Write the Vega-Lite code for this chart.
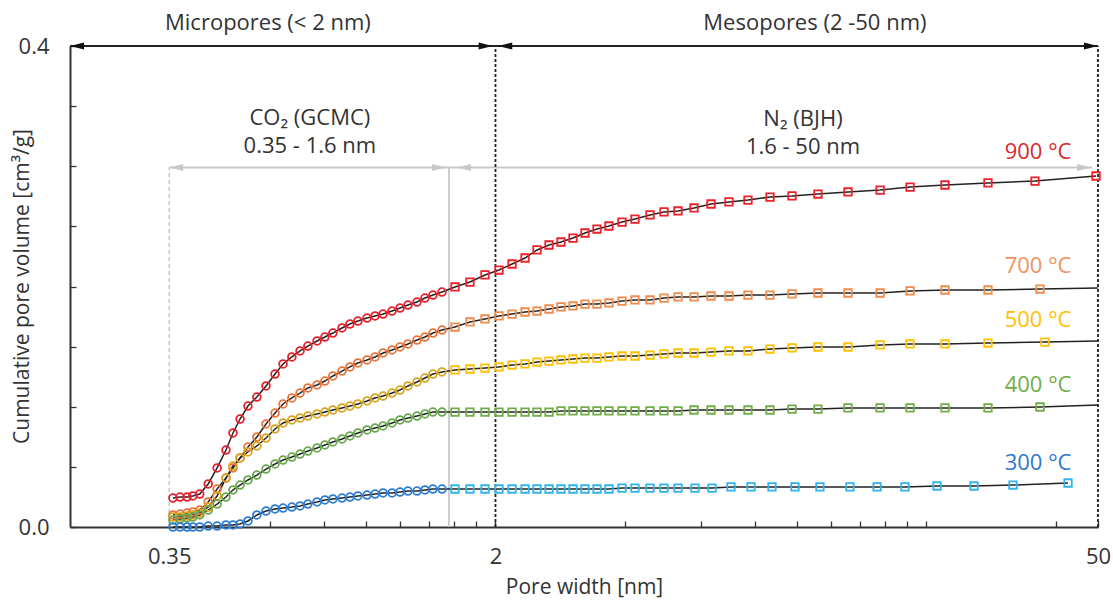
{
"$schema": "https://vega.github.io/schema/vega-lite/v6.json",
"width": 1028, "height": 481,
"autosize": {"type": "none"},
"padding": {"left": 70, "top": 46, "right": 15, "bottom": 75},
"background": "white",
"config": {"view": {"stroke": null}},
"datasets": {
"pts": [
{"t":"900","m":"G","w":0.357,"v":0.0241},{"t":"900","m":"G","w":0.371,"v":0.0249},{"t":"900","m":"G","w":0.385,"v":0.0249},{"t":"900","m":"G","w":0.397,"v":0.0258},{"t":"900","m":"G","w":0.412,"v":0.0274},{"t":"900","m":"G","w":0.431,"v":0.0358},{"t":"900","m":"G","w":0.452,"v":0.0491},{"t":"900","m":"G","w":0.474,"v":0.0640},{"t":"900","m":"G","w":0.492,"v":0.0782},{"t":"900","m":"G","w":0.511,"v":0.0898},{"t":"900","m":"G","w":0.533,"v":0.1006},{"t":"900","m":"G","w":0.559,"v":0.1081},{"t":"900","m":"G","w":0.587,"v":0.1173},{"t":"900","m":"G","w":0.616,"v":0.1272},{"t":"900","m":"G","w":0.643,"v":0.1356},{"t":"900","m":"G","w":0.674,"v":0.1414},{"t":"900","m":"G","w":0.704,"v":0.1464},{"t":"900","m":"G","w":0.734,"v":0.1505},{"t":"900","m":"G","w":0.771,"v":0.1547},{"t":"900","m":"G","w":0.804,"v":0.1580},{"t":"900","m":"G","w":0.839,"v":0.1613},{"t":"900","m":"G","w":0.881,"v":0.1655},{"t":"900","m":"G","w":0.919,"v":0.1688},{"t":"900","m":"G","w":0.959,"v":0.1713},{"t":"900","m":"G","w":1.007,"v":0.1738},{"t":"900","m":"G","w":1.051,"v":0.1755},{"t":"900","m":"G","w":1.097,"v":0.1771},{"t":"900","m":"G","w":1.151,"v":0.1796},{"t":"900","m":"G","w":1.201,"v":0.1821},{"t":"900","m":"G","w":1.253,"v":0.1846},{"t":"900","m":"G","w":1.315,"v":0.1871},{"t":"900","m":"G","w":1.372,"v":0.1904},{"t":"900","m":"G","w":1.432,"v":0.1929},{"t":"900","m":"G","w":1.503,"v":0.1954},
{"t":"900","m":"B","w":1.611,"v":0.1996},{"t":"900","m":"B","w":1.745,"v":0.2037},{"t":"900","m":"B","w":1.891,"v":0.2096},{"t":"900","m":"B","w":2.038,"v":0.2137},{"t":"900","m":"B","w":2.185,"v":0.2187},{"t":"900","m":"B","w":2.342,"v":0.2237},{"t":"900","m":"B","w":2.497,"v":0.2304},{"t":"900","m":"B","w":2.662,"v":0.2345},{"t":"900","m":"B","w":2.838,"v":0.2370},{"t":"900","m":"B","w":3.026,"v":0.2403},{"t":"900","m":"B","w":3.226,"v":0.2445},{"t":"900","m":"B","w":3.440,"v":0.2478},{"t":"900","m":"B","w":3.667,"v":0.2503},{"t":"900","m":"B","w":3.932,"v":0.2536},{"t":"900","m":"B","w":4.214,"v":0.2561},{"t":"900","m":"B","w":4.566,"v":0.2595},{"t":"900","m":"B","w":4.920,"v":0.2620},{"t":"900","m":"B","w":5.303,"v":0.2628},{"t":"900","m":"B","w":5.776,"v":0.2653},{"t":"900","m":"B","w":6.325,"v":0.2686},{"t":"900","m":"B","w":6.963,"v":0.2703},{"t":"900","m":"B","w":7.707,"v":0.2719},{"t":"900","m":"B","w":8.669,"v":0.2744},{"t":"900","m":"B","w":9.750,"v":0.2753},{"t":"900","m":"B","w":11.20,"v":0.2769},{"t":"900","m":"B","w":13.15,"v":0.2786},{"t":"900","m":"B","w":15.61,"v":0.2802},{"t":"900","m":"B","w":18.32,"v":0.2827},{"t":"900","m":"B","w":22.08,"v":0.2844},{"t":"900","m":"B","w":27.78,"v":0.2861},{"t":"900","m":"B","w":35.71,"v":0.2877},{"t":"900","m":"B","w":49.47,"v":0.2919},
{"t":"700","m":"G","w":0.357,"v":0.0100},{"t":"700","m":"G","w":0.371,"v":0.0108},{"t":"700","m":"G","w":0.385,"v":0.0116},{"t":"700","m":"G","w":0.397,"v":0.0125},{"t":"700","m":"G","w":0.412,"v":0.0141},{"t":"700","m":"G","w":0.431,"v":0.0208},{"t":"700","m":"G","w":0.452,"v":0.0316},{"t":"700","m":"G","w":0.474,"v":0.0407},{"t":"700","m":"G","w":0.492,"v":0.0491},{"t":"700","m":"G","w":0.511,"v":0.0574},{"t":"700","m":"G","w":0.533,"v":0.0665},{"t":"700","m":"G","w":0.559,"v":0.0748},{"t":"700","m":"G","w":0.587,"v":0.0857},{"t":"700","m":"G","w":0.616,"v":0.0948},{"t":"700","m":"G","w":0.643,"v":0.1023},{"t":"700","m":"G","w":0.674,"v":0.1073},{"t":"700","m":"G","w":0.704,"v":0.1114},{"t":"700","m":"G","w":0.734,"v":0.1156},{"t":"700","m":"G","w":0.771,"v":0.1181},{"t":"700","m":"G","w":0.804,"v":0.1214},{"t":"700","m":"G","w":0.839,"v":0.1256},{"t":"700","m":"G","w":0.881,"v":0.1297},{"t":"700","m":"G","w":0.919,"v":0.1331},{"t":"700","m":"G","w":0.959,"v":0.1364},{"t":"700","m":"G","w":1.007,"v":0.1389},{"t":"700","m":"G","w":1.051,"v":0.1414},{"t":"700","m":"G","w":1.097,"v":0.1447},{"t":"700","m":"G","w":1.151,"v":0.1472},{"t":"700","m":"G","w":1.201,"v":0.1497},{"t":"700","m":"G","w":1.253,"v":0.1522},{"t":"700","m":"G","w":1.315,"v":0.1555},{"t":"700","m":"G","w":1.372,"v":0.1580},{"t":"700","m":"G","w":1.432,"v":0.1613},{"t":"700","m":"G","w":1.503,"v":0.1638},
{"t":"700","m":"B","w":1.611,"v":0.1663},{"t":"700","m":"B","w":1.745,"v":0.1705},{"t":"700","m":"B","w":1.891,"v":0.1730},{"t":"700","m":"B","w":2.038,"v":0.1755},{"t":"700","m":"B","w":2.185,"v":0.1771},{"t":"700","m":"B","w":2.342,"v":0.1788},{"t":"700","m":"B","w":2.497,"v":0.1796},{"t":"700","m":"B","w":2.662,"v":0.1813},{"t":"700","m":"B","w":2.838,"v":0.1830},{"t":"700","m":"B","w":3.026,"v":0.1838},{"t":"700","m":"B","w":3.226,"v":0.1854},{"t":"700","m":"B","w":3.440,"v":0.1854},{"t":"700","m":"B","w":3.667,"v":0.1863},{"t":"700","m":"B","w":3.932,"v":0.1879},{"t":"700","m":"B","w":4.214,"v":0.1888},{"t":"700","m":"B","w":4.566,"v":0.1888},{"t":"700","m":"B","w":4.920,"v":0.1904},{"t":"700","m":"B","w":5.303,"v":0.1913},{"t":"700","m":"B","w":5.776,"v":0.1913},{"t":"700","m":"B","w":6.325,"v":0.1921},{"t":"700","m":"B","w":6.963,"v":0.1921},{"t":"700","m":"B","w":7.707,"v":0.1929},{"t":"700","m":"B","w":8.669,"v":0.1929},{"t":"700","m":"B","w":9.750,"v":0.1938},{"t":"700","m":"B","w":11.20,"v":0.1946},{"t":"700","m":"B","w":13.15,"v":0.1946},{"t":"700","m":"B","w":15.61,"v":0.1946},{"t":"700","m":"B","w":18.32,"v":0.1963},{"t":"700","m":"B","w":22.08,"v":0.1971},{"t":"700","m":"B","w":27.78,"v":0.1971},{"t":"700","m":"B","w":36.68,"v":0.1979},{"t":"700","m":"E","w":50,"v":0.1988},
{"t":"500","m":"G","w":0.357,"v":0.0083},{"t":"500","m":"G","w":0.371,"v":0.0083},{"t":"500","m":"G","w":0.385,"v":0.0091},{"t":"500","m":"G","w":0.397,"v":0.0100},{"t":"500","m":"G","w":0.412,"v":0.0116},{"t":"500","m":"G","w":0.431,"v":0.0166},{"t":"500","m":"G","w":0.452,"v":0.0258},{"t":"500","m":"G","w":0.474,"v":0.0407},{"t":"500","m":"G","w":0.492,"v":0.0507},{"t":"500","m":"G","w":0.511,"v":0.0574},{"t":"500","m":"G","w":0.533,"v":0.0624},{"t":"500","m":"G","w":0.559,"v":0.0674},{"t":"500","m":"G","w":0.587,"v":0.0740},{"t":"500","m":"G","w":0.616,"v":0.0815},{"t":"500","m":"G","w":0.643,"v":0.0865},{"t":"500","m":"G","w":0.674,"v":0.0890},{"t":"500","m":"G","w":0.704,"v":0.0906},{"t":"500","m":"G","w":0.734,"v":0.0923},{"t":"500","m":"G","w":0.771,"v":0.0940},{"t":"500","m":"G","w":0.804,"v":0.0956},{"t":"500","m":"G","w":0.839,"v":0.0973},{"t":"500","m":"G","w":0.881,"v":0.0990},{"t":"500","m":"G","w":0.919,"v":0.1006},{"t":"500","m":"G","w":0.959,"v":0.1023},{"t":"500","m":"G","w":1.007,"v":0.1048},{"t":"500","m":"G","w":1.051,"v":0.1073},{"t":"500","m":"G","w":1.097,"v":0.1089},{"t":"500","m":"G","w":1.151,"v":0.1114},{"t":"500","m":"G","w":1.201,"v":0.1139},{"t":"500","m":"G","w":1.253,"v":0.1173},{"t":"500","m":"G","w":1.315,"v":0.1206},{"t":"500","m":"G","w":1.372,"v":0.1239},{"t":"500","m":"G","w":1.432,"v":0.1272},{"t":"500","m":"G","w":1.503,"v":0.1289},
{"t":"500","m":"B","w":1.611,"v":0.1306},{"t":"500","m":"B","w":1.745,"v":0.1314},{"t":"500","m":"B","w":1.891,"v":0.1322},{"t":"500","m":"B","w":2.038,"v":0.1331},{"t":"500","m":"B","w":2.185,"v":0.1347},{"t":"500","m":"B","w":2.342,"v":0.1356},{"t":"500","m":"B","w":2.497,"v":0.1372},{"t":"500","m":"B","w":2.662,"v":0.1380},{"t":"500","m":"B","w":2.838,"v":0.1389},{"t":"500","m":"B","w":3.026,"v":0.1397},{"t":"500","m":"B","w":3.226,"v":0.1405},{"t":"500","m":"B","w":3.440,"v":0.1405},{"t":"500","m":"B","w":3.667,"v":0.1414},{"t":"500","m":"B","w":3.932,"v":0.1422},{"t":"500","m":"B","w":4.214,"v":0.1422},{"t":"500","m":"B","w":4.566,"v":0.1430},{"t":"500","m":"B","w":4.920,"v":0.1439},{"t":"500","m":"B","w":5.303,"v":0.1447},{"t":"500","m":"B","w":5.776,"v":0.1447},{"t":"500","m":"B","w":6.325,"v":0.1455},{"t":"500","m":"B","w":6.963,"v":0.1464},{"t":"500","m":"B","w":7.707,"v":0.1464},{"t":"500","m":"B","w":8.669,"v":0.1480},{"t":"500","m":"B","w":9.750,"v":0.1489},{"t":"500","m":"B","w":11.20,"v":0.1497},{"t":"500","m":"B","w":13.15,"v":0.1497},{"t":"500","m":"B","w":15.61,"v":0.1514},{"t":"500","m":"B","w":18.32,"v":0.1522},{"t":"500","m":"B","w":22.08,"v":0.1522},{"t":"500","m":"B","w":27.78,"v":0.1530},{"t":"500","m":"B","w":37.67,"v":0.1538},{"t":"500","m":"E","w":50,"v":0.1547},
{"t":"400","m":"G","w":0.357,"v":0.0058},{"t":"400","m":"G","w":0.371,"v":0.0067},{"t":"400","m":"G","w":0.385,"v":0.0075},{"t":"400","m":"G","w":0.397,"v":0.0083},{"t":"400","m":"G","w":0.412,"v":0.0100},{"t":"400","m":"G","w":0.431,"v":0.0141},{"t":"400","m":"G","w":0.452,"v":0.0191},{"t":"400","m":"G","w":0.474,"v":0.0249},{"t":"400","m":"G","w":0.492,"v":0.0308},{"t":"400","m":"G","w":0.511,"v":0.0349},{"t":"400","m":"G","w":0.533,"v":0.0391},{"t":"400","m":"G","w":0.559,"v":0.0432},{"t":"400","m":"G","w":0.587,"v":0.0482},{"t":"400","m":"G","w":0.616,"v":0.0524},{"t":"400","m":"G","w":0.643,"v":0.0557},{"t":"400","m":"G","w":0.674,"v":0.0582},{"t":"400","m":"G","w":0.704,"v":0.0607},{"t":"400","m":"G","w":0.734,"v":0.0632},{"t":"400","m":"G","w":0.771,"v":0.0657},{"t":"400","m":"G","w":0.804,"v":0.0682},{"t":"400","m":"G","w":0.839,"v":0.0707},{"t":"400","m":"G","w":0.881,"v":0.0732},{"t":"400","m":"G","w":0.919,"v":0.0757},{"t":"400","m":"G","w":0.959,"v":0.0782},{"t":"400","m":"G","w":1.007,"v":0.0807},{"t":"400","m":"G","w":1.051,"v":0.0823},{"t":"400","m":"G","w":1.097,"v":0.0840},{"t":"400","m":"G","w":1.151,"v":0.0865},{"t":"400","m":"G","w":1.201,"v":0.0890},{"t":"400","m":"G","w":1.253,"v":0.0906},{"t":"400","m":"G","w":1.315,"v":0.0923},{"t":"400","m":"G","w":1.372,"v":0.0940},{"t":"400","m":"G","w":1.432,"v":0.0956},{"t":"400","m":"G","w":1.503,"v":0.0956},
{"t":"400","m":"B","w":1.611,"v":0.0956},{"t":"400","m":"B","w":1.745,"v":0.0956},{"t":"400","m":"B","w":1.891,"v":0.0956},{"t":"400","m":"B","w":2.038,"v":0.0956},{"t":"400","m":"B","w":2.185,"v":0.0956},{"t":"400","m":"B","w":2.342,"v":0.0956},{"t":"400","m":"B","w":2.497,"v":0.0956},{"t":"400","m":"B","w":2.662,"v":0.0956},{"t":"400","m":"B","w":2.838,"v":0.0965},{"t":"400","m":"B","w":3.026,"v":0.0965},{"t":"400","m":"B","w":3.226,"v":0.0965},{"t":"400","m":"B","w":3.440,"v":0.0965},{"t":"400","m":"B","w":3.667,"v":0.0965},{"t":"400","m":"B","w":3.932,"v":0.0965},{"t":"400","m":"B","w":4.214,"v":0.0965},{"t":"400","m":"B","w":4.566,"v":0.0965},{"t":"400","m":"B","w":4.920,"v":0.0965},{"t":"400","m":"B","w":5.303,"v":0.0965},{"t":"400","m":"B","w":5.776,"v":0.0973},{"t":"400","m":"B","w":6.325,"v":0.0973},{"t":"400","m":"B","w":6.963,"v":0.0973},{"t":"400","m":"B","w":7.707,"v":0.0973},{"t":"400","m":"B","w":8.669,"v":0.0973},{"t":"400","m":"B","w":9.750,"v":0.0981},{"t":"400","m":"B","w":11.20,"v":0.0981},{"t":"400","m":"B","w":13.15,"v":0.0990},{"t":"400","m":"B","w":15.61,"v":0.0990},{"t":"400","m":"B","w":18.32,"v":0.0990},{"t":"400","m":"B","w":22.08,"v":0.0990},{"t":"400","m":"B","w":27.78,"v":0.0990},{"t":"400","m":"B","w":36.68,"v":0.0998},{"t":"400","m":"E","w":50,"v":0.1015},
{"t":"300","m":"G","w":0.357,"v":0.0},{"t":"300","m":"G","w":0.371,"v":0.0},{"t":"300","m":"G","w":0.385,"v":0.0},{"t":"300","m":"G","w":0.397,"v":0.0},{"t":"300","m":"G","w":0.412,"v":0.0},{"t":"300","m":"G","w":0.431,"v":0.0008},{"t":"300","m":"G","w":0.452,"v":0.0008},{"t":"300","m":"G","w":0.474,"v":0.0017},{"t":"300","m":"G","w":0.492,"v":0.0017},{"t":"300","m":"G","w":0.511,"v":0.0025},{"t":"300","m":"G","w":0.533,"v":0.0050},{"t":"300","m":"G","w":0.559,"v":0.0100},{"t":"300","m":"G","w":0.587,"v":0.0133},{"t":"300","m":"G","w":0.616,"v":0.0150},{"t":"300","m":"G","w":0.643,"v":0.0158},{"t":"300","m":"G","w":0.674,"v":0.0166},{"t":"300","m":"G","w":0.704,"v":0.0175},{"t":"300","m":"G","w":0.734,"v":0.0191},{"t":"300","m":"G","w":0.771,"v":0.0208},{"t":"300","m":"G","w":0.804,"v":0.0225},{"t":"300","m":"G","w":0.839,"v":0.0233},{"t":"300","m":"G","w":0.881,"v":0.0241},{"t":"300","m":"G","w":0.919,"v":0.0249},{"t":"300","m":"G","w":0.959,"v":0.0258},{"t":"300","m":"G","w":1.007,"v":0.0266},{"t":"300","m":"G","w":1.051,"v":0.0274},{"t":"300","m":"G","w":1.097,"v":0.0283},{"t":"300","m":"G","w":1.151,"v":0.0283},{"t":"300","m":"G","w":1.201,"v":0.0291},{"t":"300","m":"G","w":1.253,"v":0.0299},{"t":"300","m":"G","w":1.315,"v":0.0299},{"t":"300","m":"G","w":1.372,"v":0.0308},{"t":"300","m":"G","w":1.432,"v":0.0316},{"t":"300","m":"G","w":1.503,"v":0.0316},
{"t":"300","m":"B","w":1.611,"v":0.0316},{"t":"300","m":"B","w":1.745,"v":0.0316},{"t":"300","m":"B","w":1.891,"v":0.0316},{"t":"300","m":"B","w":2.038,"v":0.0316},{"t":"300","m":"B","w":2.185,"v":0.0316},{"t":"300","m":"B","w":2.342,"v":0.0316},{"t":"300","m":"B","w":2.497,"v":0.0316},{"t":"300","m":"B","w":2.662,"v":0.0316},{"t":"300","m":"B","w":2.838,"v":0.0316},{"t":"300","m":"B","w":3.026,"v":0.0316},{"t":"300","m":"B","w":3.226,"v":0.0316},{"t":"300","m":"B","w":3.440,"v":0.0316},{"t":"300","m":"B","w":3.667,"v":0.0316},{"t":"300","m":"B","w":3.932,"v":0.0324},{"t":"300","m":"B","w":4.214,"v":0.0324},{"t":"300","m":"B","w":4.566,"v":0.0324},{"t":"300","m":"B","w":4.920,"v":0.0324},{"t":"300","m":"B","w":5.303,"v":0.0324},{"t":"300","m":"B","w":5.807,"v":0.0324},{"t":"300","m":"B","w":6.359,"v":0.0324},{"t":"300","m":"B","w":7.038,"v":0.0333},{"t":"300","m":"B","w":7.832,"v":0.0333},{"t":"300","m":"B","w":8.762,"v":0.0333},{"t":"300","m":"B","w":9.907,"v":0.0333},{"t":"300","m":"B","w":11.32,"v":0.0333},{"t":"300","m":"B","w":13.29,"v":0.0333},{"t":"300","m":"B","w":15.36,"v":0.0333},{"t":"300","m":"B","w":17.83,"v":0.0333},{"t":"300","m":"B","w":21.16,"v":0.0341},{"t":"300","m":"B","w":25.78,"v":0.0341},{"t":"300","m":"B","w":31.75,"v":0.0349},{"t":"300","m":"B","w":42.60,"v":0.0366}
]
},
"encoding": {
  "x": {"field": "w", "type": "quantitative",
    "scale": {"type": "log", "domain": [0.206, 50], "nice": false},
    "axis": {"values": [0.35,0.6,0.8,1,1.2,1.4,1.6,1.8,2,4,6,8,10,12,14,16,18,20,40,50],
      "labelExpr": "datum.value == 0.35 ? '0.35' : datum.value == 2 ? '2' : datum.value == 50 ? '50' : ''",
      "title": "Pore width [nm]", "grid": false,
      "domainColor": "#333", "domainWidth": 2, "tickColor": "#333", "tickWidth": 1.3, "tickSize": -6,
      "labelPadding": 25, "labelFlush": false, "labelOverlap": false,
      "labelFont": "Open Sans", "labelFontSize": 22, "labelColor": "#333",
      "titleFont": "Open Sans", "titleFontSize": 21, "titleFontWeight": "normal", "titleColor": "#333",
      "titleX": 514, "titleY": 60, "titleBaseline": "middle", "titleAlign": "center"}},
  "y": {"field": "v", "type": "quantitative",
    "scale": {"domain": [0, 0.4], "nice": false},
    "axis": {"values": [0,0.05,0.1,0.15,0.2,0.25,0.3,0.35,0.4],
      "labelExpr": "datum.value == 0 || datum.value == 0.4 ? format(datum.value, '.1f') : ''",
      "title": "Cumulative pore volume [cm³/g]", "grid": false,
      "domainColor": "#333", "domainWidth": 2, "tickColor": "#333", "tickWidth": 1.3, "tickSize": -6,
      "labelPadding": 27, "labelOverlap": false,
      "labelFont": "Open Sans", "labelFontSize": 22, "labelColor": "#333",
      "titleFont": "Open Sans", "titleFontSize": 21, "titleFontWeight": "normal", "titleColor": "#333",
      "titleX": -48, "titleY": 240, "titleAngle": 270, "titleBaseline": "middle", "titleAlign": "center"}}
},
"layer": [
  {"data": {"values": [{"w": 0.35, "v": 0, "v2": 0.299}]},
   "mark": {"type": "rule", "color": "#c8c8c8", "strokeWidth": 1.5, "strokeDash": [4, 3]},
   "encoding": {"y2": {"field": "v2"}}},
  {"data": {"values": [{"w": 1.56, "v": 0, "v2": 0.299}]},
   "mark": {"type": "rule", "color": "#bdbdbd", "strokeWidth": 1.5},
   "encoding": {"y2": {"field": "v2"}}},
  {"data": {"values": [{"w": 0.35, "w2": 48.5, "v": 0.299}]},
   "mark": {"type": "rule", "color": "#c8c8c8", "strokeWidth": 2},
   "encoding": {"x2": {"field": "w2"}}},
  {"data": {"values": [{"w": 0.35, "v": 0.299}, {"w": 1.628, "v": 0.299}]},
   "mark": {"type": "point", "shape": "M0,0L2,-0.5L2,0.5Z", "filled": true, "color": "#c8c8c8", "size": 196, "opacity": 1}},
  {"data": {"values": [{"w": 1.536, "v": 0.299}, {"w": 48.2, "v": 0.299}]},
   "mark": {"type": "point", "shape": "M0,0L-2,-0.5L-2,0.5Z", "filled": true, "color": "#c8c8c8", "size": 196, "opacity": 1}},
  {"data": {"values": [{"w": 2, "v": 0, "v2": 0.4}, {"w": 50, "v": 0, "v2": 0.4}]},
   "mark": {"type": "rule", "color": "#222", "strokeWidth": 1.8, "strokeDash": [3, 2]},
   "encoding": {"y2": {"field": "v2"}}},
  {"data": {"values": [{"w": 0.206, "w2": 50, "v": 0.4}]},
   "mark": {"type": "rule", "color": "#222", "strokeWidth": 2},
   "encoding": {"x2": {"field": "w2"}}},
  {"data": {"values": [{"w": 0.206, "v": 0.4}, {"w": 2.03, "v": 0.4}]},
   "mark": {"type": "point", "shape": "M0,0L2,-0.5L2,0.5Z", "filled": true, "color": "#111", "size": 196, "opacity": 1}},
  {"data": {"values": [{"w": 1.97, "v": 0.4}, {"w": 50, "v": 0.4}]},
   "mark": {"type": "point", "shape": "M0,0L-2,-0.5L-2,0.5Z", "filled": true, "color": "#111", "size": 196, "opacity": 1}},
  {"data": {"name": "pts"},
   "mark": {"type": "line", "color": "#222", "strokeWidth": 1.5},
   "encoding": {"detail": {"field": "t"}}},
  {"data": {"name": "pts"},
   "transform": [{"filter": "datum.m == 'G'"}],
   "mark": {"type": "point", "shape": "circle", "filled": false, "size": 60, "strokeWidth": 1.8, "opacity": 1},
   "encoding": {"color": {"field": "t", "type": "nominal", "legend": null,
     "scale": {"domain": ["900","700","500","400","300"], "range": ["#E8202A","#E8743B","#D9A520","#6AA84F","#2D7DD2"]}}}},
  {"data": {"name": "pts"},
   "transform": [{"filter": "datum.m == 'B'"}],
   "mark": {"type": "point", "shape": "square", "filled": false, "size": 56, "strokeWidth": 1.8, "opacity": 1},
   "encoding": {"color": {"field": "t", "type": "nominal", "legend": null,
     "scale": {"domain": ["900","700","500","400","300"], "range": ["#F0202A","#F08A4B","#FFC000","#70AD47","#2FB4EE"]}}}},
  {"data": {"values": [
     {"w": 0.593, "v": 0.419, "s": "Micropores (< 2 nm)"},
     {"w": 11.02, "v": 0.419, "s": "Mesopores (2 -50 nm)"},
     {"w": 0.742, "v": 0.340, "s": "CO₂ (GCMC)"},
     {"w": 0.742, "v": 0.3168, "s": "0.35 - 1.6 nm"},
     {"w": 10.34, "v": 0.339, "s": "N₂ (BJH)"},
     {"w": 10.34, "v": 0.316, "s": "1.6 - 50 nm"}]},
   "mark": {"type": "text", "font": "Open Sans", "fontSize": 22, "color": "#333", "align": "center", "baseline": "middle"},
   "encoding": {"text": {"field": "s"}}},
  {"data": {"values": [
     {"t": "900", "w": 36.3, "v": 0.312, "s": "900 °C"},
     {"t": "700", "w": 36.3, "v": 0.217, "s": "700 °C"},
     {"t": "500", "w": 36.3, "v": 0.172, "s": "500 °C"},
     {"t": "400", "w": 36.3, "v": 0.118, "s": "400 °C"},
     {"t": "300", "w": 36.3, "v": 0.053, "s": "300 °C"}]},
   "mark": {"type": "text", "font": "Open Sans", "fontSize": 22, "align": "center", "baseline": "middle"},
   "encoding": {"text": {"field": "s"},
     "color": {"field": "t", "type": "nominal", "legend": null,
       "scale": {"domain": ["900","700","500","400","300"], "range": ["#D8282E","#F0935E","#FFC000","#70AD47","#2E78CC"]}}}}
],
"resolve": {"scale": {"color": "independent"}}
}
